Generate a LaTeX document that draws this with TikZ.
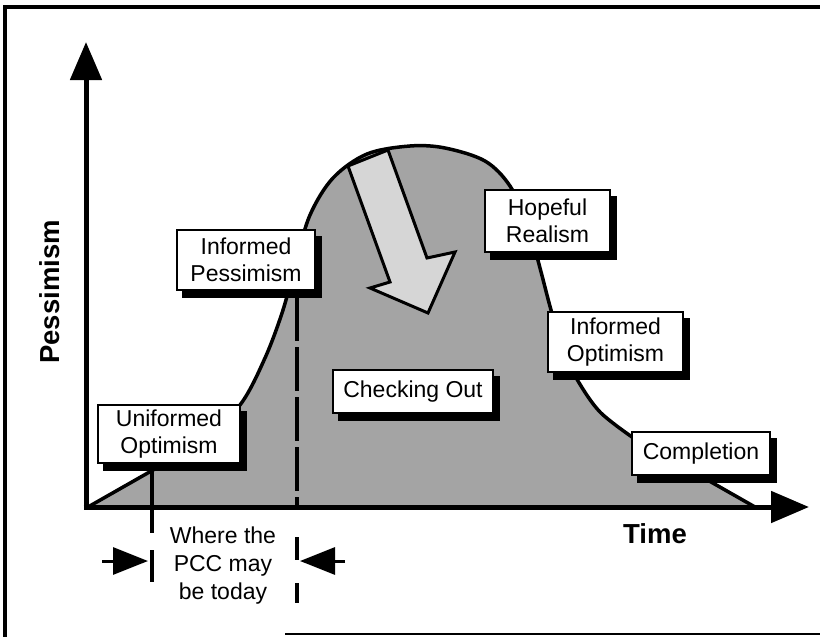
\documentclass[tikz,border=0pt]{standalone}
\usepackage{fontspec}
\setmainfont{Liberation Sans}
\usetikzlibrary{arrows.meta}

\definecolor{humpgray}{RGB}{164,164,164}
\definecolor{arrowgray}{RGB}{214,214,214}

% the rise-and-fall curve of the pessimism hump
\newcommand{\humpline}{(88,507) -- plot[smooth,tension=0.55] coordinates {
  (153,470) (200,443) (240,405) (265,358) (283,310) (296,262) (310,215)
  (333,178) (367,154) (410,146) (445,148) (485,161) (510,186) (528,225)
  (540,268) (551,310) (563,350) (578,381) (600,412) (632,437)} -- (755,507)}

\begin{document}
\begin{tikzpicture}[x=1pt,y=-1pt,
  phase/.style={draw=black, line width=2pt, fill=white, align=center, inner sep=0pt,
    font=\fontsize{23}{27}\selectfont,
    preaction={draw=black, fill=black, line width=2pt,
      transform canvas={shift={(6pt,-7pt)}}}},
  axislabel/.style={font=\fontsize{27.5}{30}\selectfont\bfseries},
  axis/.style={line width=5pt, -{Triangle[width=31pt,length=38pt]}},
  marker/.style={line width=4pt},
  pointer/.style={line width=3pt, -{Triangle[width=27pt,length=35pt]}},
]
\useasboundingbox (0,0) rectangle (820,637);

% frame
\draw[line width=3.5pt] (5,637) -- (5,7) -- (820,7);
\draw[line width=2.5pt] (285,634) -- (820,634);

% shaded hump
\fill[humpgray] \humpline -- cycle;

% hollow arrow pointing down the far side
\draw[line width=3pt, fill=arrowgray, line join=miter]
  (348,166) -- (390,282) -- (370,288) -- (428,313) -- (455,252)
  -- (427,258) -- (388,150) -- cycle;

% outline of the hump
\draw[line width=3.5pt, line join=round] \humpline;

% dashed markers
\coordinate (m1top) at (152,470);
\coordinate (m1bot) at (152,533);
\coordinate (m2top) at (297,297);
\coordinate (m2bot) at (297,507);
\draw[marker, dash pattern=on 44pt off 6pt] (m2top) -- (m2bot);
\draw[marker] (m1top) -- (m1bot);
\draw[marker] (152,550) -- (152,582);
\draw[marker] (297,537) -- (297,560);
\draw[marker] (297,583) -- (297,603);

% axes
\coordinate (ytip) at (86,42);
\coordinate (xtip) at (809,507);
\draw[axis] (86,509.5) -- (ytip);
\draw[axis] (83.5,507) -- (xtip);

% phase labels
\node[phase, minimum width=142pt, minimum height=58pt] (uo) at (169,434) {Uniformed\\Optimism};
\node[phase, minimum width=138pt, minimum height=60pt] (ip) at (246,260) {Informed\\Pessimism};
\node[phase, minimum width=125pt, minimum height=62pt] (hr) at (547.5,221) {Hopeful\\Realism};
\node[phase, minimum width=135pt, minimum height=60pt] (io) at (615.5,342) {Informed\\Optimism};
\node[phase, minimum width=160pt, minimum height=43pt] (co) at (413,391.5) {Checking Out};
\node[phase, minimum width=138pt, minimum height=43pt] (cp) at (701,453.5) {Completion};

% axis titles
\node[axislabel, rotate=90] (ylab) at (50,292) {Pessimism};
\node[axislabel] (xlab) at (655,534) {Time};

% current position bracket
\node[align=center, font=\fontsize{23}{28}\selectfont] (today) at (223,566) {Where the\\PCC may\\be today};
\coordinate (la) at (102,561);
\coordinate (lb) at (148,561);
\coordinate (ra) at (345,561);
\coordinate (rb) at (300,561);
\draw[pointer] (la) -- (lb);
\draw[pointer] (ra) -- (rb);
\end{tikzpicture}
\end{document}
